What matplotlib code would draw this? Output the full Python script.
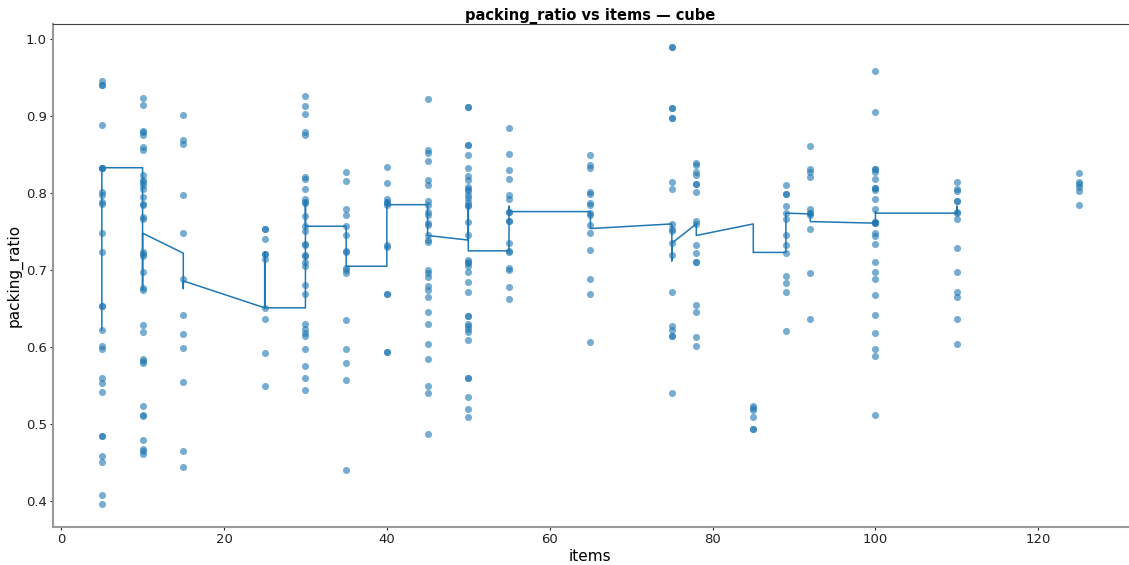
import matplotlib
matplotlib.use("Agg")
import matplotlib.pyplot as plt
import numpy as np

# scatter values per item count
groups = {
    5: [0.946, 0.941, 0.941, 0.889, 0.833, 0.833, 0.833, 0.801, 0.798, 0.789, 0.786, 0.748, 0.724,
        0.653, 0.653, 0.622, 0.601, 0.598, 0.560, 0.553, 0.542, 0.484, 0.484, 0.458, 0.451, 0.408, 0.396],
    10: [0.924, 0.914, 0.881, 0.879, 0.875, 0.860, 0.856, 0.823, 0.817, 0.815, 0.811, 0.805, 0.795,
         0.786, 0.784, 0.769, 0.767, 0.723, 0.721, 0.718, 0.698, 0.677, 0.674, 0.629, 0.619, 0.585,
         0.582, 0.579, 0.524, 0.512, 0.510, 0.479, 0.468, 0.4645, 0.4606],
    15: [0.901, 0.869, 0.864, 0.798, 0.748, 0.688, 0.642, 0.617, 0.599, 0.555, 0.465, 0.444],
    25: [0.753, 0.753, 0.741, 0.721, 0.721, 0.715, 0.651, 0.636, 0.592, 0.550],
    30: [0.926, 0.913, 0.903, 0.879, 0.876, 0.821, 0.819, 0.805, 0.793, 0.789, 0.787, 0.770, 0.757,
         0.751, 0.734, 0.732, 0.720, 0.718, 0.710, 0.705, 0.681, 0.669, 0.630, 0.624, 0.618, 0.614,
         0.597, 0.575, 0.560, 0.544],
    35: [0.827, 0.816, 0.779, 0.772, 0.757, 0.745, 0.725, 0.724, 0.703, 0.700, 0.696, 0.635, 0.597,
         0.579, 0.557, 0.440],
    40: [0.834, 0.813, 0.793, 0.789, 0.787, 0.784, 0.733, 0.730, 0.669, 0.669, 0.594, 0.594],
    45: [0.922, 0.856, 0.852, 0.842, 0.817, 0.811, 0.790, 0.784, 0.776, 0.771, 0.761, 0.758, 0.745,
         0.739, 0.736, 0.700, 0.696, 0.691, 0.679, 0.674, 0.665, 0.646, 0.630, 0.604, 0.585, 0.550,
         0.541, 0.487],
    50: [0.912, 0.912, 0.862, 0.862, 0.849, 0.833, 0.822, 0.817, 0.808, 0.805, 0.803, 0.797, 0.794,
         0.788, 0.785, 0.783, 0.763, 0.745, 0.713, 0.711, 0.709, 0.705, 0.697, 0.684, 0.672, 0.641,
         0.641, 0.630, 0.627, 0.624, 0.620, 0.609, 0.560, 0.560, 0.535, 0.519, 0.509],
    55: [0.885, 0.851, 0.830, 0.819, 0.798, 0.793, 0.776, 0.776, 0.764, 0.764, 0.735, 0.725, 0.723,
         0.703, 0.700, 0.678, 0.662],
    65: [0.849, 0.837, 0.833, 0.802, 0.799, 0.787, 0.784, 0.774, 0.771, 0.759, 0.748, 0.726, 0.688,
         0.669, 0.607],
    75: [0.990, 0.990, 0.911, 0.911, 0.897, 0.897, 0.815, 0.806, 0.760, 0.753, 0.751, 0.735, 0.720,
         0.671, 0.627, 0.622, 0.614, 0.614, 0.540],
    78: [0.839, 0.836, 0.828, 0.823, 0.812, 0.812, 0.802, 0.764, 0.760, 0.733, 0.722, 0.710, 0.710,
         0.655, 0.645, 0.613, 0.602],
    85: [0.523, 0.521, 0.518, 0.509, 0.494, 0.494],
    89: [0.811, 0.799, 0.799, 0.783, 0.774, 0.766, 0.745, 0.732, 0.722, 0.692, 0.683, 0.671, 0.621],
    92: [0.861, 0.831, 0.827, 0.821, 0.780, 0.774, 0.774, 0.772, 0.753, 0.696, 0.636],
    100: [0.958, 0.905, 0.831, 0.831, 0.828, 0.819, 0.807, 0.807, 0.804, 0.793, 0.779, 0.763, 0.763,
          0.761, 0.761, 0.748, 0.744, 0.734, 0.711, 0.698, 0.689, 0.668, 0.642, 0.618, 0.598, 0.589,
          0.512],
    110: [0.815, 0.806, 0.803, 0.790, 0.790, 0.776, 0.774, 0.767, 0.729, 0.698, 0.672, 0.665, 0.636,
          0.604],
    125: [0.826, 0.815, 0.812, 0.808, 0.803, 0.784],
}

# trend line, in drawing order
line_x = [5, 5, 10, 10, 10, 15, 15, 15, 25, 25, 25, 30, 30, 30, 35, 35, 40, 40, 40, 45, 45,
          50, 50, 50, 55, 55, 55, 65, 65, 75, 75, 75, 78, 78, 85, 85, 89, 89, 92, 92,
          100, 100, 100, 110, 110, 110]
line_y = [0.622, 0.833, 0.833, 0.675, 0.748, 0.722, 0.676, 0.686, 0.651, 0.723, 0.651, 0.651,
          0.789, 0.757, 0.757, 0.705, 0.705, 0.791, 0.785, 0.785, 0.745,
          0.739, 0.783, 0.725, 0.725, 0.783, 0.776, 0.776, 0.754, 0.760, 0.712, 0.735,
          0.760, 0.745, 0.760, 0.723, 0.723, 0.774, 0.773, 0.763,
          0.761, 0.776, 0.774, 0.774, 0.783, 0.773]

xs = []
ys = []
for k, vals in groups.items():
    xs += [k] * len(vals)
    ys += vals

fig, ax = plt.subplots(figsize=(11.29, 5.65), dpi=100)
fig.subplots_adjust(left=53 / 1129, right=0.999, top=1 - 24 / 565, bottom=1 - 527 / 565)

ax.scatter(xs, ys, s=26, color="#1f77b4", alpha=0.6, linewidths=0)
ax.plot(line_x, line_y, color="#1f77b4", lw=1.1)

ax.set_title("packing_ratio vs items \u2014 cube", fontsize=10.5, fontweight="bold", pad=3)
ax.set_xlabel("items", fontsize=11, labelpad=2)
ax.set_ylabel("packing_ratio", fontsize=11, labelpad=2)
ax.tick_params(labelsize=9.5, colors="#222222", length=2.5, pad=2)
ax.set_xticks([0, 20, 40, 60, 80, 100, 120])

ax.spines["right"].set_visible(False)
ax.spines["top"].set_color("#444444")
for s in ["left", "bottom"]:
    ax.spines[s].set_color("#999999")
    ax.spines[s].set_linewidth(1.5)

fig.savefig("out.png")
